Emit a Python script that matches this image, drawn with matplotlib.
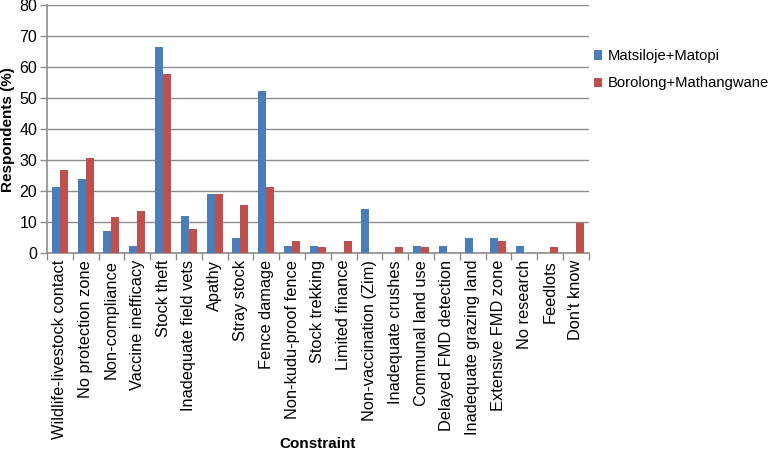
import matplotlib
matplotlib.use('Agg')
import matplotlib.pyplot as plt
import numpy as np

# Data
constraints = ['Wildlife-livestock contact', 'No protection zone', 'Non-compliance',
               'Vaccine inefficacy', 'Stock theft', 'Inadequate field vets', 'Apathy',
               'Stray stock', 'Fence damage', 'Non-kudu-proof fence', 'Stock trekking',
               'Limited finance', 'Non-vaccination (Zim)', 'Inadequate crushes',
               'Communal land use', 'Delayed FMD detection', 'Inadequate grazing land',
               'Extensive FMD zone', 'No research', 'Feedlots', "Don't know"]
matsiloje = [21.4, 23.8, 7.1, 2.4, 66.7, 11.9, 19.0, 4.8, 52.4, 2.4, 2.4,
             0, 14.3, 0, 2.4, 2.4, 4.8, 4.8, 2.4, 0, 0]
borolong = [26.9, 30.8, 11.5, 13.5, 57.7, 7.7, 19.2, 15.4, 21.2, 3.8, 1.9,
            3.8, 0, 1.9, 1.9, 0, 0, 3.8, 0, 1.9, 9.6]
series_names = ['Matsiloje+Matopi', 'Borolong+Mathangwane']

plt.rcParams.update({'font.family': 'Liberation Sans', 'font.size': 10})
fig = plt.figure(figsize=(7.75, 4.51), dpi=100)
ax = fig.add_axes([0.0606, 0.439, 0.699, 0.549])

x = np.arange(len(constraints))
w = 0.31
ax.bar(x - w / 2, matsiloje, w, color='#4a7ebb', label=series_names[0], zorder=3)
ax.bar(x + w / 2, borolong, w, color='#c0504d', label=series_names[1], zorder=3)

ax.set_ylim(0, 80)
ax.set_xlim(-0.5, len(constraints) - 0.5)
ax.set_yticks(np.arange(0, 81, 10))
ax.yaxis.grid(True, color='#8c8c8c', linewidth=1.0, zorder=0)
ax.set_axisbelow(True)

# category labels centred, ticks at category boundaries
ax.set_xticks(x)
ax.set_xticklabels(constraints, rotation=90, fontsize=11.8)
ax.tick_params(axis='x', length=0, pad=5)
ax.set_xticks(np.arange(-0.5, len(constraints)), minor=True)
ax.tick_params(axis='x', which='minor', length=5, color='#8c8c8c', width=1)
ax.tick_params(axis='y', length=5, color='#8c8c8c', width=1, labelsize=11.5, pad=2)

for s in ['top', 'right']:
    ax.spines[s].set_visible(False)
for s in ['left', 'bottom']:
    ax.spines[s].set_color('#8c8c8c')
    ax.spines[s].set_linewidth(1.2)

ax.set_ylabel('Respondents (%)', fontsize=11, fontweight='bold', labelpad=3)
ax.set_xlabel('Constraint', fontsize=11, fontweight='bold')
ax.xaxis.set_label_coords(0.5, -0.745)

ax.legend(loc='upper left', bbox_to_anchor=(0.99, 0.865), frameon=False,
          fontsize=10.6, handlelength=0.6, handleheight=0.6, handletextpad=0.35,
          labelspacing=0.9, borderaxespad=0.3)

fig.savefig('out.png', dpi=100)
